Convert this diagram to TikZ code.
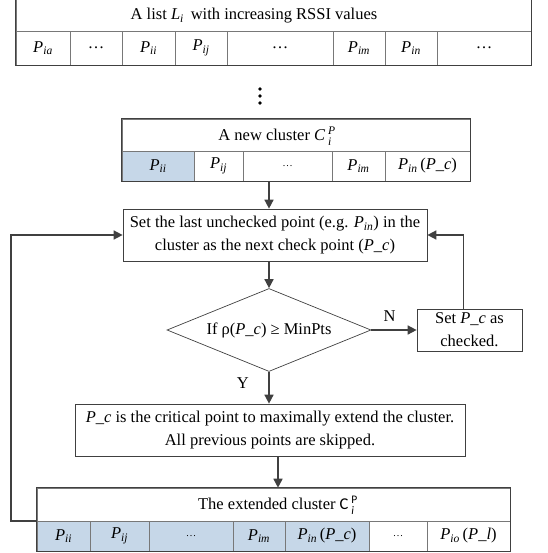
\documentclass[tikz,border=0pt]{standalone}
\usepackage{amsmath}
\usepackage{fontspec}
\setmainfont{Liberation Serif}
\newfontfamily\califont{Carlito}
\usetikzlibrary{shapes.geometric,arrows.meta}

\definecolor{cellblue}{RGB}{198,215,232}
\definecolor{darkline}{RGB}{64,64,64}
\definecolor{gridline}{RGB}{120,120,120}

\newcommand{\Pnt}[1]{\textit{P}\textsubscript{\textit{#1}}}
\newcommand{\Pc}{\textit{P\_c}}
\newcommand{\clus}{$\mathit{C}\,{}_{\mathit{i}}^{\mathit{P}}$}
\newcommand{\cclus}{$\text{\califont C}\,{}_{\text{\califont\itshape i}}^{\text{\califont P}}$}
\newcommand{\sdots}{{\fontsize{10}{11}\selectfont .\kern1pt.\kern1pt.}}

\begin{document}
\begin{tikzpicture}[x=1pt,y=-1pt,
  font=\fontsize{16.5}{23}\selectfont,
  cell/.style={draw=gridline, line width=0.6pt, inner sep=0pt},
  shaded/.style={cell, fill=cellblue},
  frame/.style={draw=darkline, line width=1.4pt},
  box/.style={draw=darkline, line width=0.7pt, fill=white, align=center, inner sep=0pt},
  arr/.style={draw=darkline, line width=1.6pt, -{Triangle[length=9pt,width=9pt]}}]
\useasboundingbox (0,0) rectangle (547,553);

% list L_i
\node[cell, minimum width=515pt, minimum height=35pt] (lhead) at (273.5,13.5) {};
\node (ltitle) at (254,16) {A list \textit{L}\textsubscript{\textit{i}}\, with increasing RSSI values};
\node[cell, minimum width=54pt, minimum height=34pt] (l1) at (43,48) {\Pnt{ia}};
\node[cell, minimum width=52pt, minimum height=34pt] (l2) at (96,48) {\ldots};
\node[cell, minimum width=53pt, minimum height=34pt] (l3) at (148.5,48) {\Pnt{ii}};
\node[cell, minimum width=52pt, minimum height=34pt] (l4) at (201,48) {\Pnt{ij}};
\node[cell, minimum width=106pt, minimum height=34pt] (l5) at (280,48) {\ldots};
\node[cell, minimum width=52pt, minimum height=34pt] (l6) at (359,48) {\Pnt{im}};
\node[cell, minimum width=52pt, minimum height=34pt] (l7) at (411,48) {\Pnt{in}};
\node[cell, minimum width=94pt, minimum height=34pt] (l8) at (484,48) {\ldots};
\draw[frame] (lhead.north west) rectangle (l8.south east);

\foreach \y in {89,96,103}
  \fill (260,\y) circle (1.8pt);

% new cluster
\node[cell, minimum width=348pt, minimum height=32pt] (nhead) at (296,135) {};
\node (ntitle) at (277,136) {A new cluster \clus};
\node[shaded, minimum width=72pt, minimum height=30pt] (n1) at (158,166) {\Pnt{ii}};
\node[cell, minimum width=49pt, minimum height=30pt] (n2) at (218.5,166) {\Pnt{ij}};
\node[cell, minimum width=89pt, minimum height=30pt] (n3) at (287.5,166) {\sdots};
\node[cell, minimum width=53pt, minimum height=30pt] (n4) at (358.5,166) {\Pnt{im}};
\node[cell, minimum width=85pt, minimum height=30pt] (n5) at (427.5,166) {\Pnt{in}\,(\Pc)};
\draw[frame] (nhead.north west) rectangle (n5.south east);

% flow
\node[box, minimum width=304pt, minimum height=52pt] (setbox) at (275,235)
  {Set the last unchecked point (e.g. \Pnt{in}) in the\\ cluster as the next check point (\Pc)};
\node[draw=darkline, line width=0.7pt, diamond, aspect=2.46, minimum width=204pt, minimum height=83pt, inner sep=0pt] (dec) at (269,330)
  {If ρ(\Pc) ≥ MinPts};
\node[box, minimum width=105pt, minimum height=42pt] (chk) at (469.5,330) {Set \Pc\ as\\ checked.};
\node[box, minimum width=390pt, minimum height=52pt] (crit) at (270,430)
  {\Pc\ is the critical point to maximally extend the cluster.\\ All previous points are skipped.};

% extended cluster
\node[cell, minimum width=473pt, minimum height=33pt] (ehead) at (273.5,504.5) {};
\node (etitle) at (278,505) {The extended cluster \cclus};
\node[shaded, minimum width=53pt, minimum height=30pt] (e1) at (63.5,536) {\Pnt{ii}};
\node[shaded, minimum width=59pt, minimum height=30pt] (e2) at (119.5,536) {\Pnt{ij}};
\node[shaded, minimum width=84pt, minimum height=30pt] (e3) at (191,536) {\sdots};
\node[shaded, minimum width=52pt, minimum height=30pt] (e4) at (259,536) {\Pnt{im}};
\node[shaded, minimum width=84pt, minimum height=30pt] (e5) at (327,536) {\Pnt{in}\,(\Pc)};
\node[cell, minimum width=58pt, minimum height=30pt] (e6) at (398,536) {\sdots};
\node[cell, minimum width=83pt, minimum height=30pt] (e7) at (468.5,536) {\Pnt{io}\,(\textit{P\_l})};
\draw[frame] (ehead.north west) rectangle (e7.south east);

% connectors
\draw[arr] (n3.south -| dec.north) -- (setbox.north -| dec.north);
\draw[arr] (setbox.south -| dec.north) -- (dec.north);
\draw[arr] (dec.east) -- node[above, pos=0.4, yshift=4pt] {N} (chk.west);
\draw[arr] ([xshift=-6pt]chk.north) |- (setbox.east);
\draw[arr] (dec.south) -- node[left, pos=0.35, xshift=-16pt] {Y} (crit.north -| dec.south);
\draw[arr] ([xshift=8pt]crit.south) -- ([xshift=8pt]crit.south |- ehead.north);
\draw[arr] (e1.north west) -- ++(-26,0) |- (setbox.west);
\end{tikzpicture}
\end{document}
